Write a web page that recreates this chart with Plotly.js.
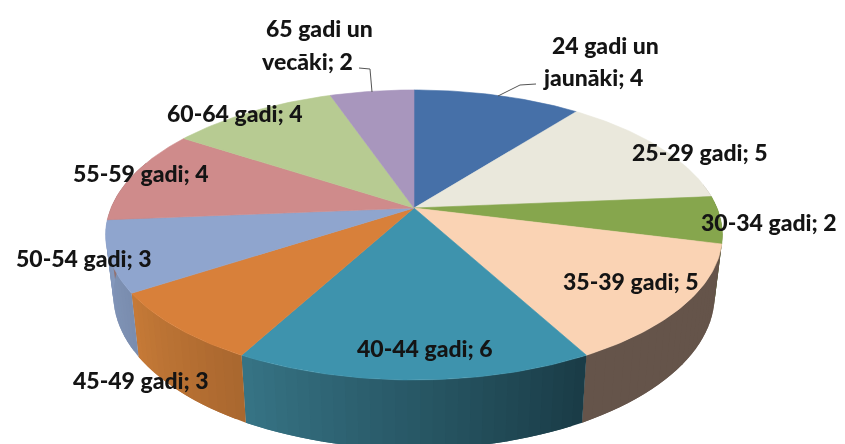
<!DOCTYPE html>
<html>
<head>
<meta charset="utf-8">
<script src="https://cdn.plot.ly/plotly-3.0.0.min.js"></script>
<style>
html,body{margin:0;padding:0;background:#fff;overflow:hidden}
#chart{width:845px;height:444px;filter:blur(0.5px)}
</style>
</head>
<body>
<div id="chart"></div>
<script>
// Data
const categories = ["24 gadi un jaunāki","25-29 gadi","30-34 gadi","35-39 gadi","40-44 gadi","45-49 gadi","50-54 gadi","55-59 gadi","60-64 gadi","65 gadi un vecāki"];
const values = [4,5,2,5,6,3,3,4,4,2];
const topColors = ["#4670A8","#EAE8DC","#86A64D","#FAD3B4","#3E93AD","#D8803A","#8FA5CE","#CF8B8B","#B7CB92","#A896BD"];
const sideStart = ["#334F77","#A5A49B","#5F7537","#65544A","#1A3B46","#A9672F","#7A8DAF","#927272","#82906A","#776A86"];
const sideEnd   = ["#334F77","#A5A49B","#5F7537","#65544A","#367485","#C67A37","#8599BD","#927272","#82906A","#776A86"];

// Label placement: [line text, centre x, centre y]
const labelLines = [
  ["24 gadi un",605,45],["jaunāki; 4",593,77],
  ["25-29 gadi; 5",700,152],
  ["30-34 gadi; 2",769,222],
  ["35-39 gadi; 5",631,281],
  ["40-44 gadi; 6",425,348],
  ["45-49 gadi; 3",141,380],
  ["50-54 gadi; 3",84,258],
  ["55-59 gadi; 4",141,173],
  ["60-64 gadi; 4",235,113],
  ["65 gadi un",319,28],["vecāki; 2",307,61]
];
const leaders = [
  {x:[536,520,498],y:[84,85,96]},
  {x:[359,370,372],y:[68,69,92]}
];

// Projection of the tilted disc
const cx=414, cy=208, A=303, B=140, K=0.186;
function topPt(t){
  const X=Math.sin(t), Y=Math.cos(t), d=1+K*Y;
  return [cx+A*X/d, cy-B*Y/d];
}
function botPt(t){
  const p=topPt(t);
  return [cx+(p[0]-cx)*0.975, cy+58.6+(p[1]-cy)*1.06];
}
function hex2(c){return [1,3,5].map(i=>parseInt(c.substr(i,2),16));}
function mix(a,b,f){
  const p=hex2(a),q=hex2(b);
  return "rgb("+p.map((v,i)=>Math.round(v+(q[i]-v)*f)).join(",")+")";
}

const total=values.reduce((s,v)=>s+v,0);
const traces=[];
const wedges=[];
let acc=0;
values.forEach((v,i)=>{
  const a0=acc/total*2*Math.PI; acc+=v;
  const a1=acc/total*2*Math.PI;
  wedges.push([a0,a1,i]);
});

function poly(xs,ys,color,name,w){
  traces.push({type:"scatter",mode:"lines",x:xs,y:ys,fill:"toself",fillcolor:color,
    line:{color:color,width:w},hoverinfo:"skip",showlegend:false,name:name});
}

// side wall: each strip runs on towards the slice's far end so later strips overpaint seams
const step=2*Math.PI/180;
wedges.forEach(([a0,a1,i])=>{
  const lo=Math.max(a0,80*Math.PI/180), hi=Math.min(a1,290*Math.PI/180);
  if(hi<=lo) return;
  const n=Math.max(1,Math.ceil((hi-lo)/step));
  for(let k=0;k<n;k++){
    const t0=lo+(hi-lo)*k/n, t1=Math.min(hi,lo+(hi-lo)*(k+2)/n);
    const p0=topPt(t0),p1=topPt(t1),q1=botPt(t1),q0=botPt(t0);
    poly([p0[0],p1[0],q1[0],q0[0],p0[0]],[p0[1],p1[1],q1[1],q0[1],p0[1]],
      mix(sideStart[i],sideEnd[i],(k+0.5)/n),categories[i],0);
  }
});
// top faces
wedges.forEach(([a0,a1,i])=>{
  const xs=[cx],ys=[cy];
  const n=Math.ceil((a1-a0)/(Math.PI/180));
  for(let k=0;k<=n;k++){
    const p=topPt(a0+(a1-a0)*k/n);
    xs.push(p[0]);ys.push(p[1]);
  }
  xs.push(cx);ys.push(cy);
  poly(xs,ys,topColors[i],categories[i],0.6);
});
// leader lines
leaders.forEach(l=>traces.push({type:"scatter",mode:"lines",x:l.x,y:l.y,
  line:{color:"#555",width:1},hoverinfo:"skip",showlegend:false}));

const annotations=labelLines.map(([t,x,y])=>({
  text:t,x:x,y:y,xref:"x",yref:"y",showarrow:false,xanchor:"center",yanchor:"middle",
  font:{family:"Lato, 'Noto Sans', sans-serif",size:23,weight:900,color:"#141414"}
}));

Plotly.newPlot("chart",traces,{
  width:845,height:444,margin:{l:0,r:0,t:0,b:0},
  paper_bgcolor:"#fff",plot_bgcolor:"#fff",showlegend:false,
  xaxis:{range:[0,845],visible:false,fixedrange:true},
  yaxis:{range:[444,0],visible:false,fixedrange:true},
  annotations:annotations
},{displayModeBar:false,staticPlot:true});
</script>
</body>
</html>
